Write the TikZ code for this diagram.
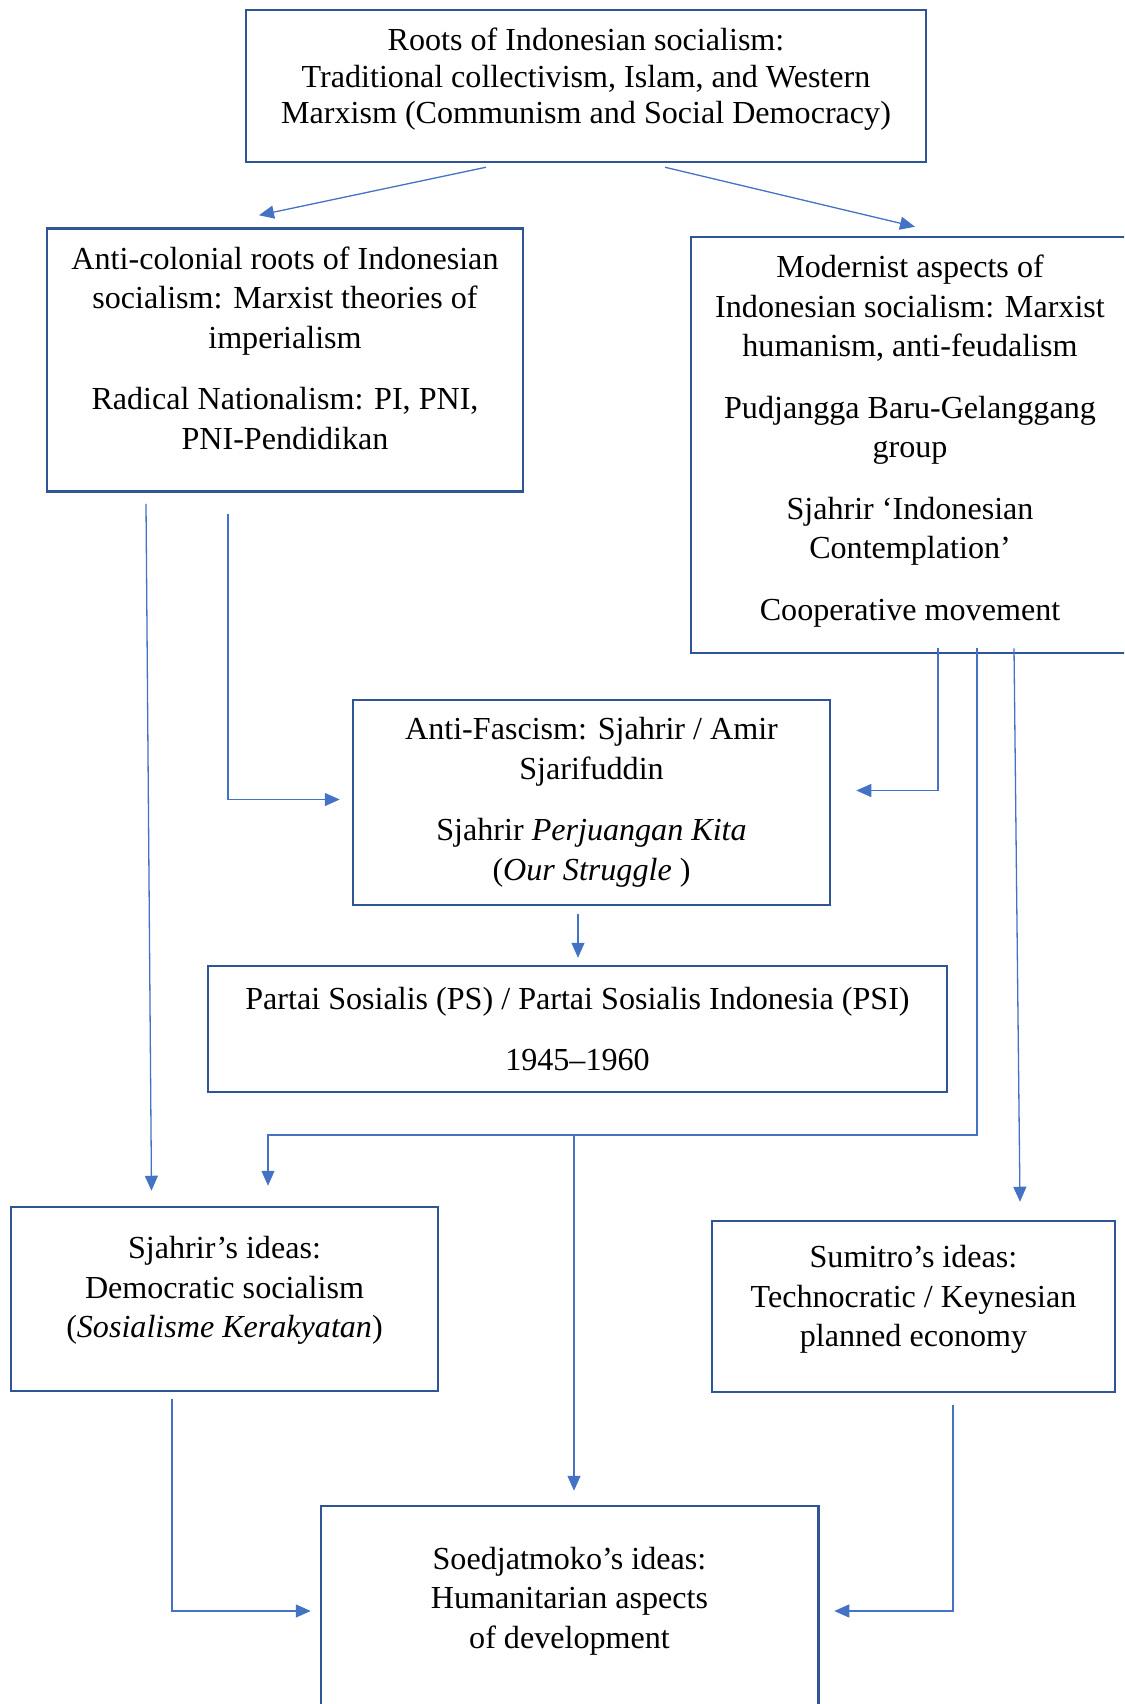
\documentclass[tikz,border=0pt]{standalone}
\usepackage{fontspec}
\setmainfont{Liberation Serif}
\usetikzlibrary{arrows.meta,positioning}
\definecolor{boxblue}{HTML}{2F5597}
\definecolor{linkblue}{HTML}{4472C4}
% extra depth under the last line, lifts the text in its box
\newcommand{\lowpad}[1]{\rule[-#1]{0pt}{0pt}}
\tikzset{
  boxline/.style={draw=boxblue, line width=2.5pt},
  box/.style={boxline, align=center, inner sep=0pt, font=\fontsize{32.1}{39.5}\selectfont},
  link/.style={draw=linkblue, line width=1.3pt, -{Triangle[length=15pt,width=13pt]}},
}

\begin{document}
\begin{tikzpicture}[x=1pt,y=1pt]
  \useasboundingbox (0,0) rectangle (1124,-1704);
  \clip (0,0) rectangle (1124,-1704);
  % boxes
  \node[box, font=\fontsize{32.1}{36.6}\selectfont, minimum width=680pt, minimum height=152pt] (roots) at (586,-86)
    {Roots of Indonesian socialism:\\Traditional collectivism, Islam, and Western\\Marxism (Communism and Social Democracy)\lowpad{20pt}};
  \node[box, minimum width=476pt, minimum height=263pt] (anticol) at (285,-360)
    {Anti-colonial roots of Indonesian\\socialism: Marxist theories of\\imperialism\\[22pt]Radical Nationalism: PI, PNI,\\PNI-Pendidikan\lowpad{24pt}};
  \node[box, minimum width=438pt, minimum height=416pt] (modern) at (910,-445)
    {Modernist aspects of\\Indonesian socialism: Marxist\\humanism, anti-feudalism\\[22pt]Pudjangga Baru-Gelanggang\\group\\[22pt]Sjahrir ‘Indonesian\\Contemplation’\\[22pt]Cooperative movement\lowpad{15pt}};
  \node[box, minimum width=477pt, minimum height=205pt] (fascism) at (591.5,-802.5)
    {Anti-Fascism: Sjahrir / Amir\\Sjarifuddin\\[22pt]Sjahrir \textit{Perjuangan Kita}\\(\textit{Our Struggle} )};
  \node[box, minimum width=739pt, minimum height=126pt] (party) at (577.5,-1029)
    {Partai Sosialis (PS) / Partai Sosialis Indonesia (PSI)\\[22pt]1945–1960};
  \node[box, minimum width=427pt, minimum height=184pt] (sjahrir) at (224.5,-1299)
    {Sjahrir’s ideas:\\Democratic socialism\\(\textit{Sosialisme Kerakyatan})\lowpad{24pt}};
  \node[box, minimum width=403pt, minimum height=171pt] (sumitro) at (913.5,-1306.5)
    {Sumitro’s ideas:\\Technocratic / Keynesian\\planned economy\lowpad{21pt}};
  \node[box, draw=none, minimum width=495pt, minimum height=184pt] (soed) at (569.5,-1601)
    {Soedjatmoko’s ideas:\\Humanitarian aspects\\of development};
  \draw[boxline] ([yshift=-150pt]soed.south west) |- ([yshift=2pt]soed.north east) -- ([yshift=-150pt]soed.south east);
  % bus line
  \coordinate (busR) at (977,-1135);
  \coordinate (busL) at (268,-1135);
  \coordinate (busM) at (574,-1135);
  % connectors
  \draw[link] ([xshift=-100pt,yshift=-4pt]roots.south) -- ([xshift=-26pt,yshift=12pt]anticol.north);
  \draw[link] ([xshift=79pt,yshift=-4pt]roots.south) -- ([xshift=5pt,yshift=9pt]modern.north);
  \draw[link] ([xshift=-139pt,yshift=-11pt]anticol.south) -- ([xshift=-73pt,yshift=15pt]sjahrir.north);
  \draw[link] ([xshift=-57pt,yshift=-21pt]anticol.south) |- ([xshift=-12pt,yshift=3pt]fascism.west);
  \draw[link] ([xshift=28pt,yshift=6pt]modern.south) |- ([xshift=25pt,yshift=12pt]fascism.east);
  \draw[link] ([xshift=67pt,yshift=6pt]modern.south) -- (busR) -- (busL) -- ([xshift=43.5pt,yshift=20pt]sjahrir.north);
  \draw[link] (busM) -- ([xshift=4.5pt,yshift=17pt]soed.north);
  \draw[link] ([xshift=104pt,yshift=6pt]modern.south) -- ([xshift=106.5pt,yshift=18pt]sumitro.north);
  \draw[link] ([xshift=-13.5pt,yshift=-8pt]fascism.south) -- ([xshift=0.5pt,yshift=7pt]party.north);
  \draw[link] ([xshift=-52.5pt,yshift=-7pt]sjahrir.south) |- ([xshift=-10pt,yshift=-10pt]soed.west);
  \draw[link] ([xshift=39.5pt,yshift=-12pt]sumitro.south) |- ([xshift=16pt,yshift=-10pt]soed.east);
\end{tikzpicture}
\end{document}
